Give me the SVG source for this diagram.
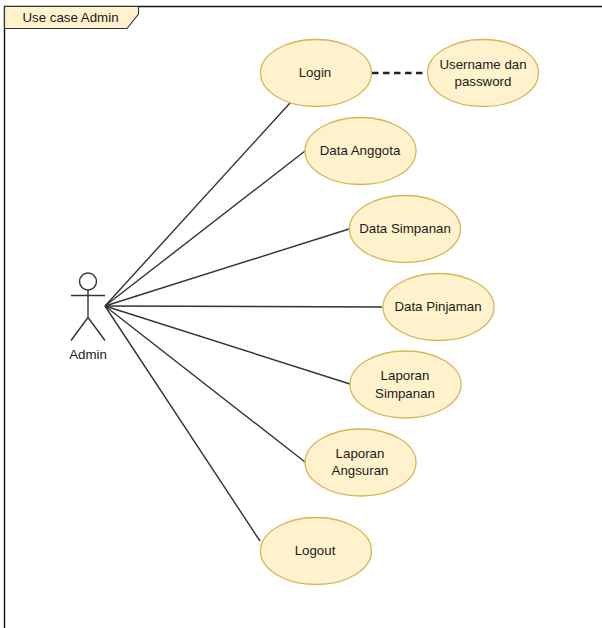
<svg xmlns="http://www.w3.org/2000/svg" width="602" height="628" viewBox="0 0 602 628">
<style>
.uc{fill:#fff2cc;stroke:#d6b656;stroke-width:1.300}
.t{font-family:"Liberation Sans",Arial,sans-serif;font-size:13.300px;fill:#1a1a1a;text-anchor:middle}
.l{stroke:#333;stroke-width:1.400;fill:none}
</style>
<rect width="602" height="628" fill="#fff"/>
<g id="frame">
<path d="M4.500 628V6.500H602" fill="none" stroke="#111" stroke-width="1.400"/>
<path d="M4.500 6.500H138.500V14L127 28.500H4.500Z" fill="#fff2cc" stroke="#333" stroke-width="1.100"/>
<text class="t" x="70.500" y="21.500">Use case Admin</text>
</g>
<g id="connectors">
<path class="l" d="M105 306L290 103"/>
<path class="l" d="M105 306L305 151"/>
<path class="l" d="M105 306L349 229"/>
<path class="l" d="M105 306L382 307"/>
<path class="l" d="M105 306L350 384"/>
<path class="l" d="M105 306L305 462"/>
<path class="l" d="M105 306L260 541"/>
<path d="M372 73H427" fill="none" stroke="#222" stroke-width="2.500" stroke-dasharray="6.500 4.500"/>
</g>
<g id="actor-admin">
<circle class="l" cx="88" cy="281.500" r="8.500"/>
<path class="l" d="M88 290V317.500M71 295.500H105M88 317.500L71 340.500M88 317.500L105 340.500"/>
<text class="t" x="88" y="359">Admin</text>
</g>
<g id="login"><ellipse class="uc" cx="316" cy="73" rx="55.500" ry="33.500"/><text class="t" x="315" y="77">Login</text></g>
<g id="username"><ellipse class="uc" cx="483" cy="73" rx="55.500" ry="33.500"/><text class="t" x="483" y="69">Username dan</text><text class="t" x="483" y="86">password</text></g>
<g id="anggota"><ellipse class="uc" cx="360.500" cy="151" rx="55.500" ry="33.500"/><text class="t" x="360" y="155">Data Anggota</text></g>
<g id="simpanan"><ellipse class="uc" cx="405" cy="229" rx="55.500" ry="33.500"/><text class="t" x="405" y="233">Data Simpanan</text></g>
<g id="pinjaman"><ellipse class="uc" cx="438.500" cy="307" rx="55.500" ry="33.500"/><text class="t" x="438" y="311">Data Pinjaman</text></g>
<g id="lap-simpanan"><ellipse class="uc" cx="405.500" cy="384.500" rx="55.500" ry="33.500"/><text class="t" x="405" y="380">Laporan</text><text class="t" x="405" y="398">Simpanan</text></g>
<g id="lap-angsuran"><ellipse class="uc" cx="360.500" cy="462.500" rx="55.500" ry="33.500"/><text class="t" x="360" y="458">Laporan</text><text class="t" x="360" y="475">Angsuran</text></g>
<g id="logout"><ellipse class="uc" cx="316" cy="551" rx="55.500" ry="33.500"/><text class="t" x="315" y="555">Logout</text></g>
</svg>
